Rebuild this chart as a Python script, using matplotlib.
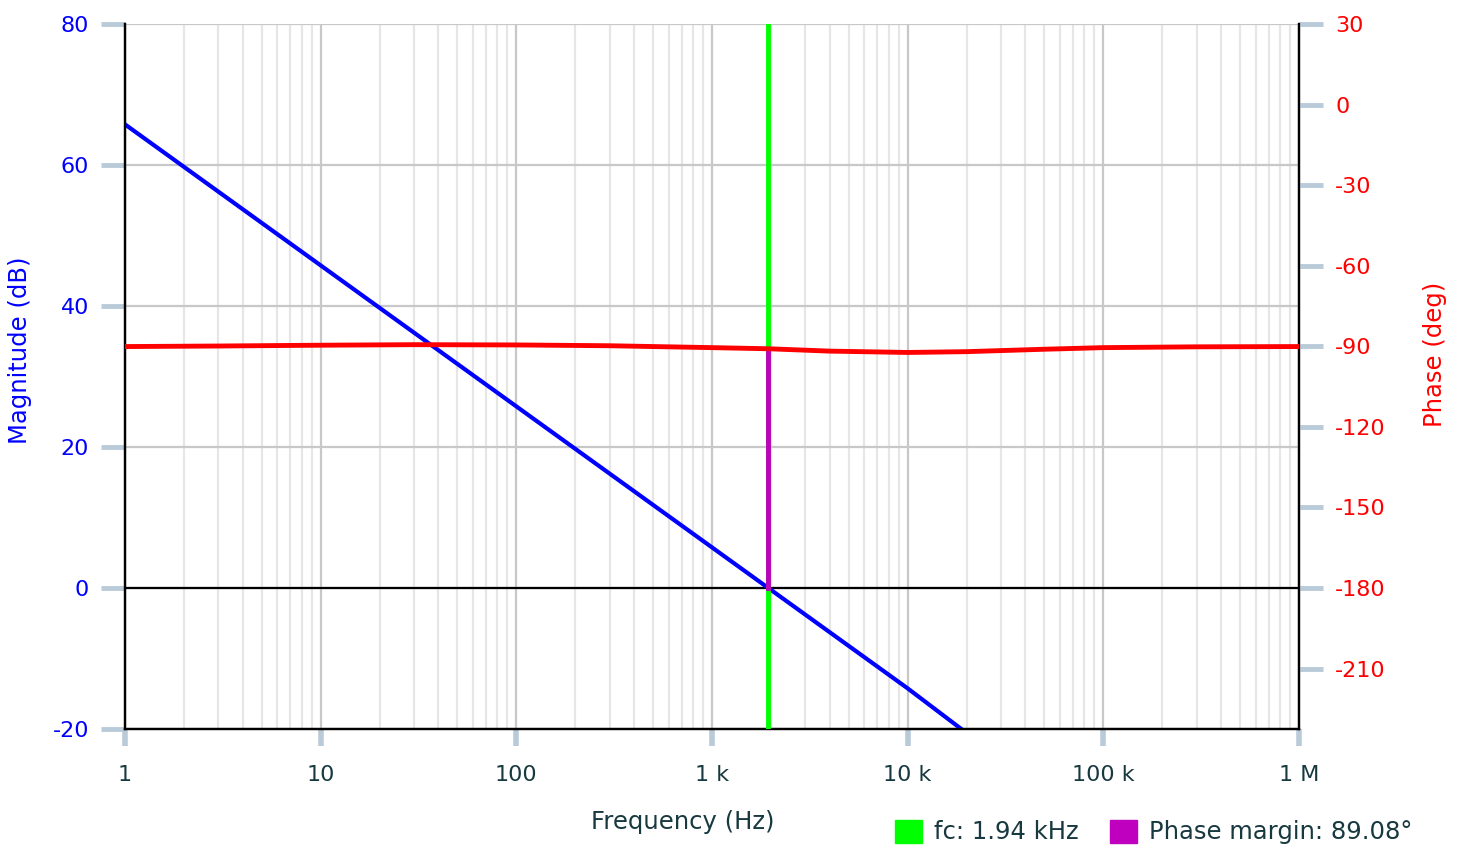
import matplotlib.pyplot as plt
from matplotlib.patches import Patch
from matplotlib.ticker import FixedLocator, LogLocator, NullFormatter

# Values
mag_freq = [1, 10, 100, 1000, 1940, 10000, 18800]
mag_db = [65.76, 45.76, 25.76, 5.76, 0.0, -14.24, -20.0]

phase_freq = [1, 3, 10, 30, 100, 300, 1000, 1940, 4000, 10000, 20000, 50000, 100000, 300000, 1000000]
phase_deg = [-90.1, -89.9, -89.6, -89.4, -89.5, -89.8, -90.5, -90.92, -91.8, -92.3, -92.0, -91.1, -90.5, -90.2, -90.1]

fc = 1940
phase_at_fc = -90.92
phase_margin = 89.08

x_ticks = [1, 10, 100, 1e3, 1e4, 1e5, 1e6]
x_labels = ["1", "10", "100", "1 k", "10 k", "100 k", "1 M"]
mag_ticks = [-20, 0, 20, 40, 60, 80]
phase_ticks = [-210, -180, -150, -120, -90, -60, -30, 0, 30]

plt.rcParams['font.family'] = ['DejaVu Sans']
plt.rcParams['axes.unicode_minus'] = False
tick_col = '#b9cad9'
text_col = '#17393f'
fs_tick = 16
fs_lab = 17.5

fig = plt.figure(figsize=(14.63, 8.46), dpi=100)
ax = fig.add_axes([125 / 1463, 1 - 729 / 846, (1299 - 125) / 1463, (729 - 24) / 846])
ax2 = ax.twinx()

ax.set_xscale('log')
ax.set_xlim(1, 1e6)
ax.set_ylim(-20, 80)
ax2.set_ylim(-232.5, 30)

# grids
ax.xaxis.set_major_locator(FixedLocator(x_ticks))
ax.xaxis.set_minor_locator(LogLocator(base=10, subs=range(2, 10), numticks=20))
ax.xaxis.set_minor_formatter(NullFormatter())
ax.set_xticklabels(x_labels)
ax.set_yticks(mag_ticks)
ax2.set_yticks(phase_ticks)
ax.grid(True, which='major', color='#c8c8c8', lw=1.6)
ax.grid(True, which='minor', axis='x', color='#e6e6e6', lw=1.6)
ax.set_axisbelow(True)

ax.axhline(0, color='black', lw=1.6, zorder=2)

# lines
ax.plot(mag_freq, mag_db, color='#0000ff', lw=3, zorder=4)
ax2.plot(phase_freq, phase_deg, color='#ff0000', lw=3.5, zorder=4)
ax2.axvline(fc, color='#00ff00', lw=3.5, zorder=3)
ax2.plot([fc, fc], [-180, phase_at_fc], color='#bf00bf', lw=3.5, zorder=3.5)

# spines
for a in (ax, ax2):
    a.spines['top'].set_visible(False)
    for s in ('left', 'right', 'bottom'):
        a.spines[s].set_color('black')
        a.spines[s].set_linewidth(1.6)

ax.tick_params(axis='x', which='major', length=12, width=4, color=tick_col,
               labelcolor=text_col, labelsize=fs_tick, pad=14)
ax.tick_params(axis='x', which='minor', length=0)
ax.tick_params(axis='y', length=17, width=3.5, color=tick_col,
               labelcolor='#0000ff', labelsize=fs_tick, pad=9)
ax2.tick_params(axis='y', length=17, width=3.5, color=tick_col,
                labelcolor='#ff0000', labelsize=fs_tick, pad=9)

fig.text(20 / 1463, 1 - 350 / 846, 'Magnitude (dB)', color='#0000ff', fontsize=fs_lab,
         rotation=90, ha='center', va='center')
fig.text(1435 / 1463, 1 - 354 / 846, 'Phase (deg)', color='#ff0000', fontsize=fs_lab,
         rotation=90, ha='center', va='center')
fig.text(683 / 1463, 1 - 822 / 846, 'Frequency (Hz)', color=text_col, fontsize=fs_lab,
         ha='center', va='center')

handles = [Patch(color='#00ff00', label=f'fc: {fc / 1000:.2f} kHz'),
           Patch(color='#bf00bf', label=f'Phase margin: {phase_margin:.2f}°')]
leg = fig.legend(handles=handles, loc='center left', bbox_to_anchor=(873 / 1463, 1 - 832 / 846),
                 ncol=2, frameon=False, fontsize=fs_lab, handlelength=1.1, handleheight=1.1,
                 handletextpad=0.5, columnspacing=1.3)
for t in leg.get_texts():
    t.set_color(text_col)

plt.savefig('out.png', dpi=100)
